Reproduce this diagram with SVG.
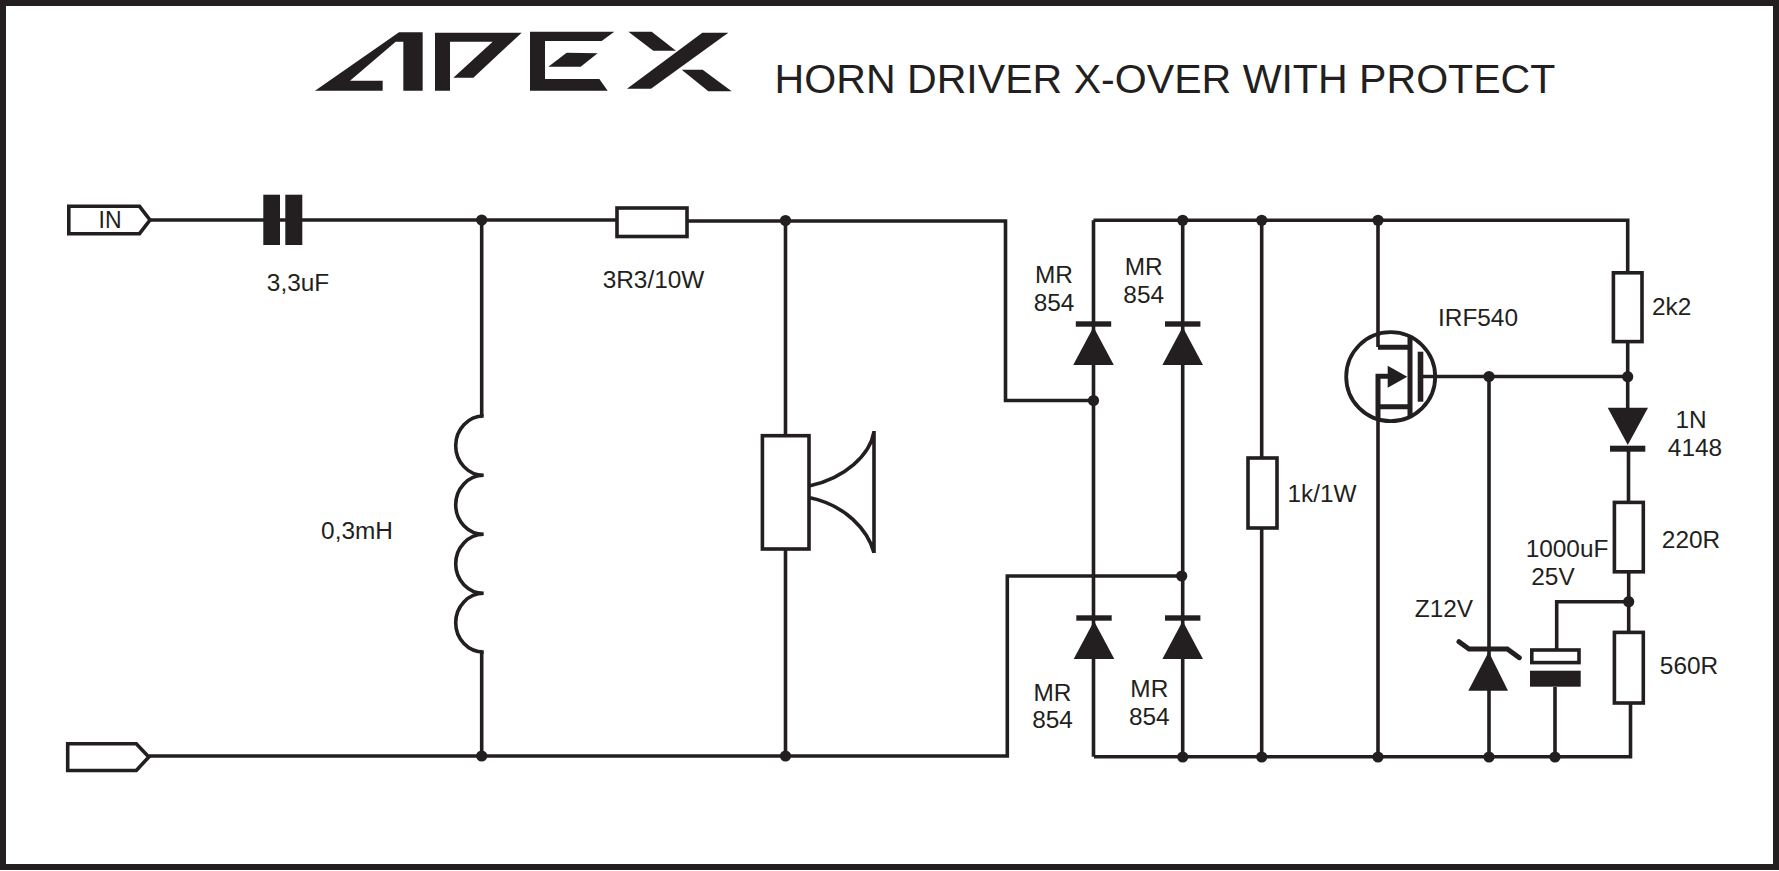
<svg xmlns="http://www.w3.org/2000/svg" width="1779" height="871" viewBox="0 0 1779 871">
<style>
text{font-family:"Liberation Sans",Arial,sans-serif;font-size:24.4px;fill:#231f20;text-anchor:middle}
.w{fill:none;stroke:#231f20;stroke-width:3.6;stroke-linejoin:miter}
.b{fill:#fff;stroke:#231f20;stroke-width:3.6}
.f{fill:#231f20;stroke:none}
.t{fill:none;stroke:#231f20;stroke-width:5}
</style>
<defs>
<circle id="dot" r="5.6" class="f"/>
<g id="diodeUp"><polygon class="f" points="0,-18 -20.300,20 20.300,20"/><rect class="f" x="-17.700" y="-23.700" width="35.400" height="5.400"/></g>
</defs>
<rect x="3" y="3" width="1773" height="864" fill="#fff" stroke="#231f20" stroke-width="6"/>
<g id="logo" class="f" transform="translate(300 10) scale(.33333)">
<polygon points="45,242 297,67 368,67 368,242 310,242 310,95 287,95 150,212 248,212 248,242"/>
<polygon points="405,68 665,68 520,203 460,203 578,95 450,95 450,242 405,242"/>
<polygon points="690,65 943,65 905,93 735,93 735,207 898,207 923,242 690,242"/>
<polygon points="800,128 893,130 842,170 745,170"/>
<polygon points="985,65 1055,65 1128,122 1060,122"/>
<polygon points="1207,68 1285,68 1053,236 981,236"/>
<polygon points="1145,179 1208,179 1295,244 1225,244"/>
</g>
<text id="title" x="1165" y="93" style="font-size:41.100px">HORN DRIVER X-OVER WITH PROTECT</text>
<g id="connectors" class="w">
<path d="M150 220H616M688 221H1005.500V400.500H1094"/>
<path d="M149 756H1007.300V576H1182"/>
<path d="M1093.500 220.300H1627.700V272M1094 756.700H1630.500V703"/>
<path d="M1093.500 220.300V756.700M1182.700 220.300V756.700M1261.700 220.300V457M1261.700 529V756.700"/>
<path d="M481.700 220V416M481.700 652V756"/>
<path d="M785.500 221V435M785.500 549V756"/>
<path d="M1378 220.300V347M1378 420V756.700"/>
<path d="M1423 376.500H1627.700M1489 376.500V756.700"/>
<path d="M1627.700 342V408M1628.500 450V503M1628.700 572V632"/>
<path d="M1556.700 650V601.700H1628.700M1555 687V756.700"/>
</g>
<g id="in-terminal"><polygon class="b" points="68.800,206.300 139.500,206.300 150,220 139.500,233.700 68.800,233.700"/><text x="110" y="228" style="font-size:23px">IN</text></g>
<g id="gnd-terminal"><polygon class="b" points="67.700,743.700 136.300,743.700 148.800,757 136.300,770.500 67.700,770.500"/></g>
<g id="c1" class="f"><rect x="263.300" y="194.700" width="16.700" height="50.300"/><rect x="285.300" y="194.700" width="17" height="50.300"/><text x="298" y="291">3,3uF</text></g>
<g id="l1"><path class="w" d="M483.700 416A28 29.650 0 1 0 483.700 475.300A28 29.500 0 1 0 483.700 534.300A28 29.500 0 1 0 483.700 593.300A28 29.350 0 1 0 483.700 652"/><text x="357" y="539">0,3mH</text></g>
<g id="r1"><rect class="b" x="617" y="208" width="70" height="28.500"/><text x="653.500" y="288">3R3/10W</text></g>
<g id="horn">
<rect class="b" x="762.400" y="435.700" width="46.600" height="113.300"/>
<path class="w" d="M874 431V553M810 485.700C845 478 870 455 874 431.700M810 497.700C845 505 868 530 874 552.700"/>
</g>
<g id="d1"><use href="#diodeUp" transform="translate(1093.500 345)"/><text x="1054" y="283.300">MR</text><text x="1054" y="310.700">854</text></g>
<g id="d2"><use href="#diodeUp" transform="translate(1182.700 345)"/><text x="1143.700" y="275">MR</text><text x="1143.700" y="302.700">854</text></g>
<g id="d3"><use href="#diodeUp" transform="translate(1094 639)"/><text x="1052.500" y="700.700">MR</text><text x="1052.500" y="728.300">854</text></g>
<g id="d4"><use href="#diodeUp" transform="translate(1182.700 639)"/><text x="1149.300" y="697.300">MR</text><text x="1149.300" y="724.700">854</text></g>
<g id="r2"><rect class="b" x="1248" y="458" width="29" height="70"/><text x="1322" y="502">1k/1W</text></g>
<g id="q1">
<circle cx="1390.700" cy="376.700" r="44.500" fill="none" stroke="#231f20" stroke-width="3.800"/>
<path class="t" d="M1378 347.300H1410M1410 337.300V416.700M1380 406.700H1410"/>
<path class="t" d="M1388 376.300H1378V420" />
<rect class="f" x="1417.700" y="351.700" width="5.600" height="50"/>
<polygon class="f" points="1387.700,365.700 1387.700,387.700 1407.300,376.700"/>
<text x="1478" y="326">IRF540</text>
</g>
<g id="r3"><rect class="b" x="1613.400" y="272.800" width="28.600" height="68.800"/><text x="1671.700" y="315">2k2</text></g>
<g id="d5"><polygon class="f" points="1607.700,407.700 1648,407.700 1627.800,445"/><rect class="f" x="1610" y="445.700" width="35.300" height="6"/><text x="1691" y="428.300">1N</text><text x="1695" y="456">4148</text></g>
<g id="r4"><rect class="b" x="1614.400" y="502.400" width="28.900" height="69.400"/><text x="1691" y="548">220R</text></g>
<g id="r5"><rect class="b" x="1614.400" y="632.400" width="28.900" height="70.600"/><text x="1689" y="674">560R</text></g>
<g id="c2"><rect class="b" x="1531.800" y="650" width="47.200" height="12.600"/><rect class="f" x="1530" y="670.700" width="50.700" height="16"/><text x="1567" y="557">1000uF</text><text x="1553" y="585">25V</text></g>
<g id="z1"><polygon class="f" points="1488.700,651.700 1468.300,690.700 1508,690.700"/><path class="t" d="M1459 641.700L1469 649H1507.300L1519.300 657.700" stroke-linecap="round"/><text x="1444" y="617">Z12V</text></g>
<g id="junctions">
<use href="#dot" x="481.700" y="220"/><use href="#dot" x="785.500" y="220.500"/><use href="#dot" x="481.700" y="756"/><use href="#dot" x="785.500" y="756"/>
<use href="#dot" x="1182.700" y="220.300"/><use href="#dot" x="1261.700" y="220.300"/><use href="#dot" x="1378" y="220.300"/>
<use href="#dot" x="1093.500" y="400.500"/><use href="#dot" x="1181.700" y="576"/>
<use href="#dot" x="1182.700" y="757"/><use href="#dot" x="1261.700" y="757"/><use href="#dot" x="1378" y="757"/><use href="#dot" x="1489" y="757"/><use href="#dot" x="1555" y="757"/>
<use href="#dot" x="1489" y="376.500"/><use href="#dot" x="1627.700" y="376.700"/><use href="#dot" x="1628.700" y="601.700"/>
</g>
</svg>
